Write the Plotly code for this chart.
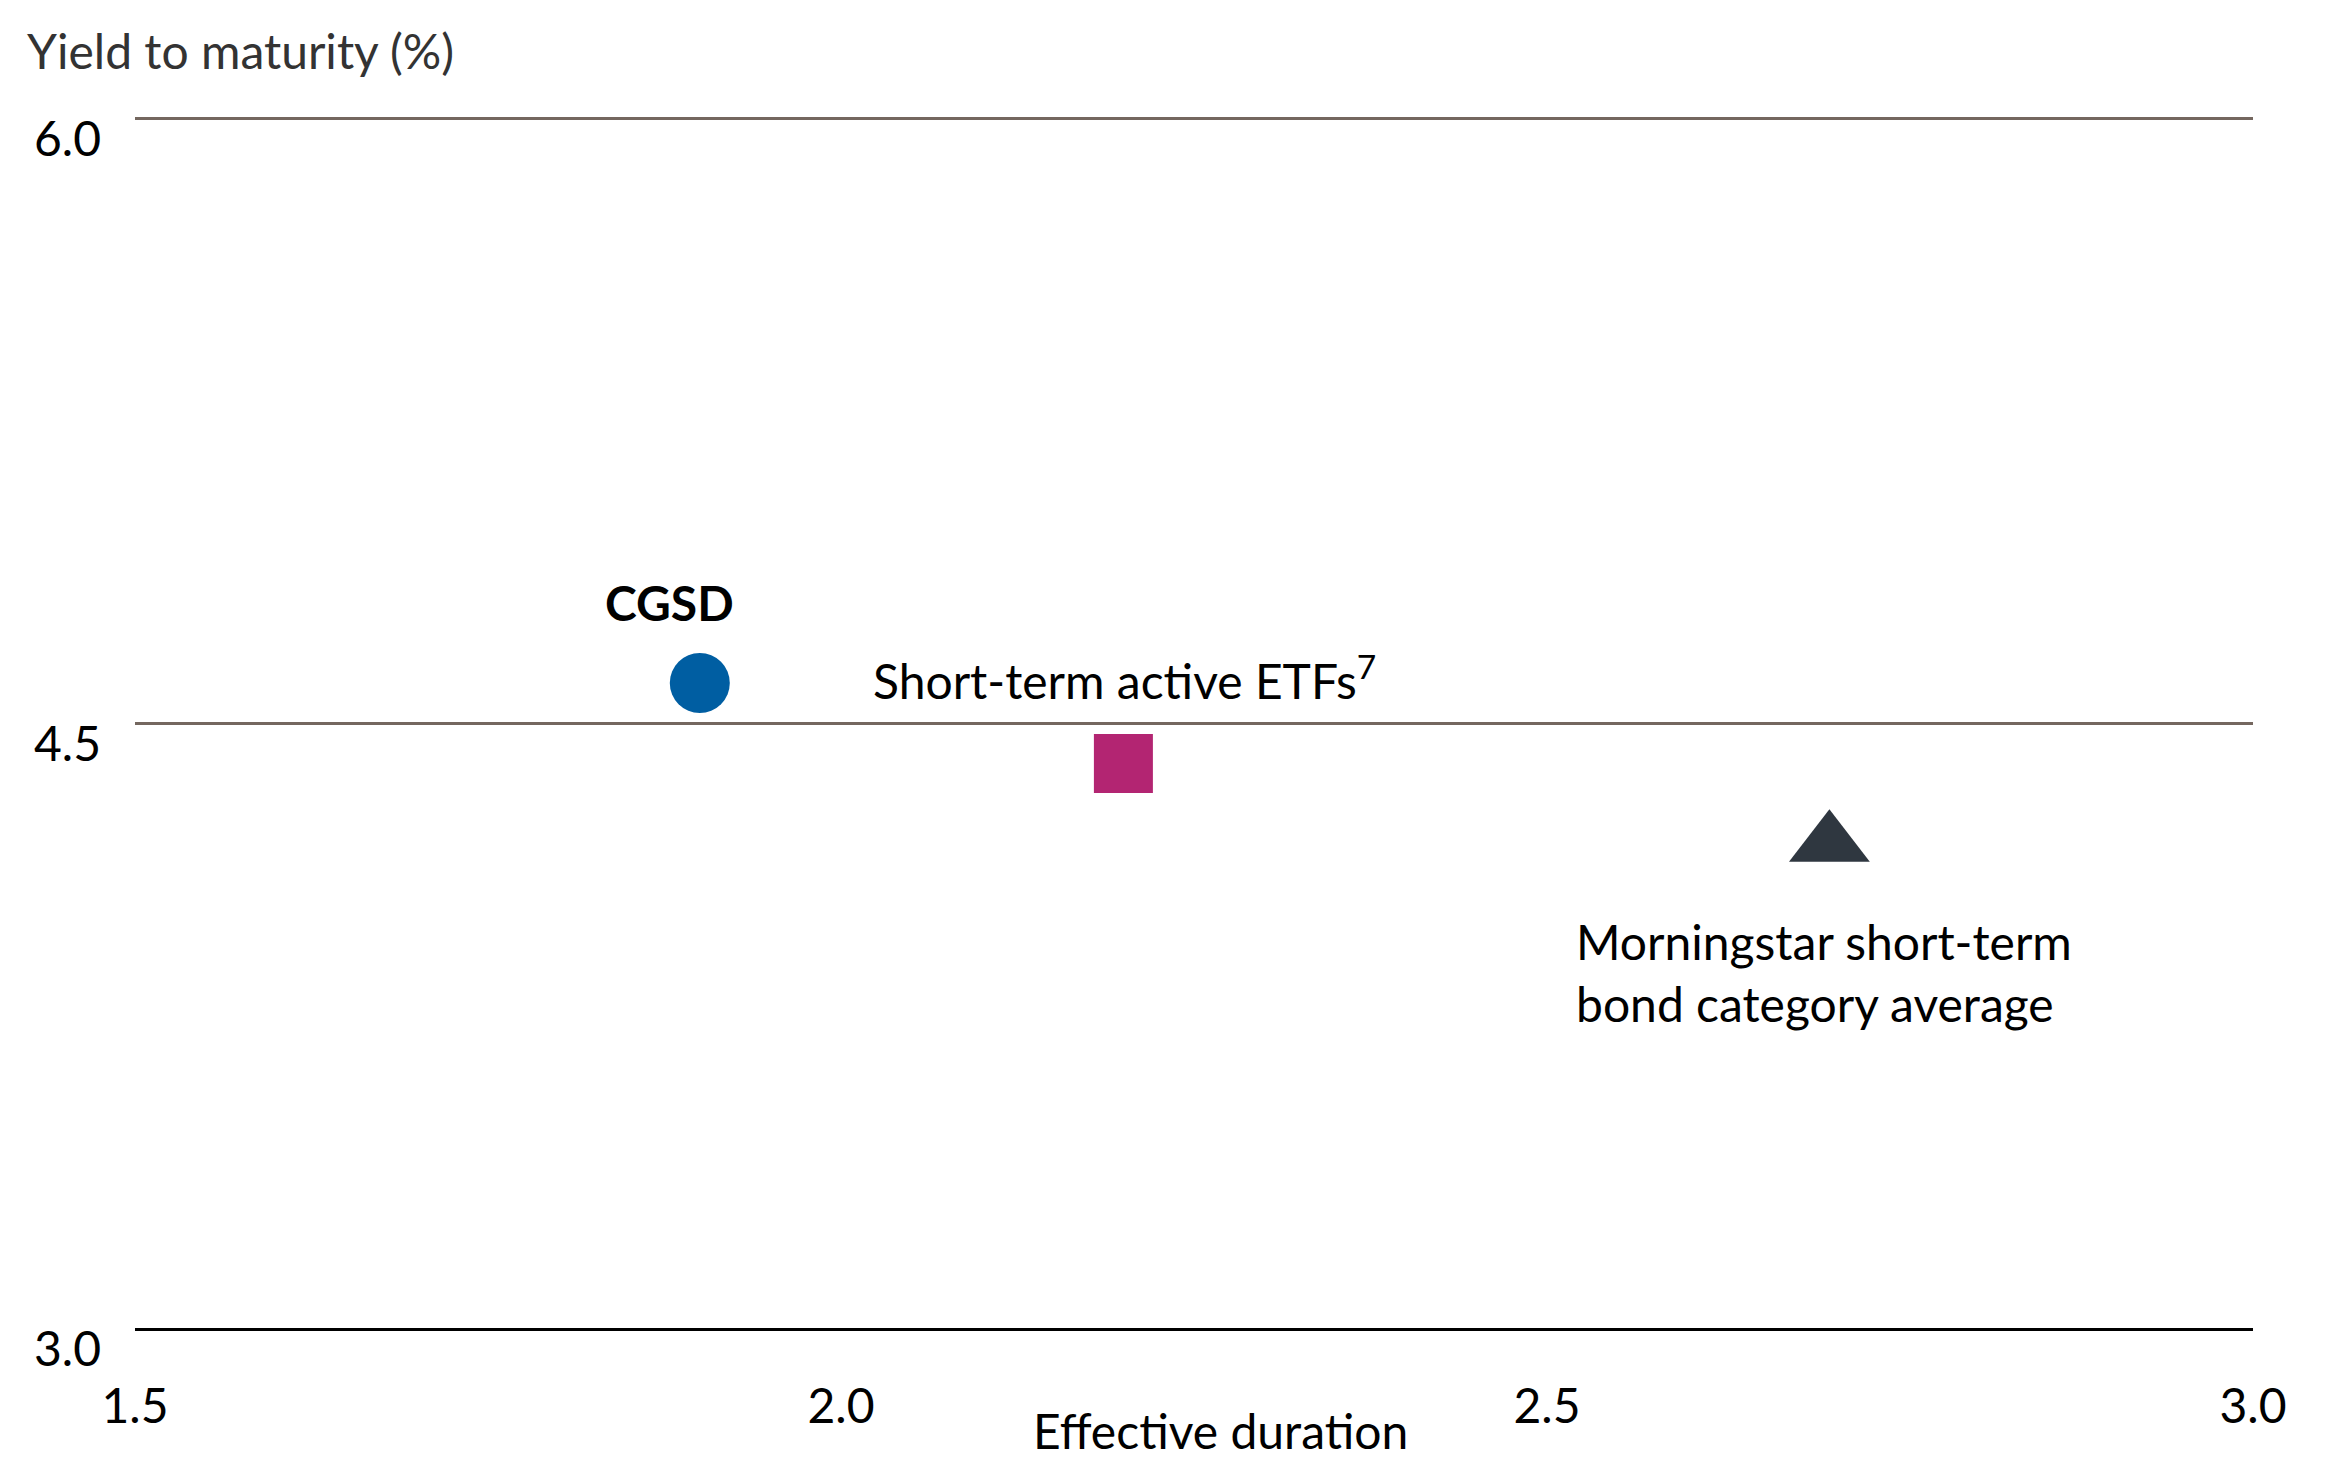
import plotly.graph_objects as go

### Data ###
names = ["CGSD", "Short-term active ETFs", "Morningstar short-term bond category average"]
duration = [1.9, 2.2, 2.7]
ytm = [4.6, 4.4, 4.2]
symbols = ["circle", "square", "triangle-up"]
colors = ["#005EA2", "#B32572", "#2F3740"]
sizes = [60, 59, 70]

x_ticks = [1.5, 2.0, 2.5, 3.0]
y_ticks = [3.0, 4.5, 6.0]

FONT = "Lato"
FS = 48

fig = go.Figure()
for i in range(len(names)):
    fig.add_trace(go.Scatter(
        x=[duration[i]], y=[ytm[i]], mode="markers", name=names[i],
        marker=dict(symbol=symbols[i], color=colors[i], size=sizes[i], line=dict(width=0)),
        showlegend=False,
    ))

### Labels next to the markers ###
fig.add_annotation(x=duration[0], y=ytm[0], text="<b>CGSD</b>", showarrow=False,
                   xanchor="center", yanchor="middle", xshift=-30, yshift=80,
                   font=dict(size=FS, color="#000000", family=FONT))
fig.add_annotation(x=duration[1], y=ytm[1], text="Short-term active ETFs<sup>7</sup>", showarrow=False,
                   xanchor="left", yanchor="middle", xshift=-252, yshift=86,
                   font=dict(size=FS, color="#000000", family=FONT))
fig.add_annotation(x=duration[2], y=ytm[2], text="Morningstar short-term<br>bond category average",
                   showarrow=False, align="left",
                   xanchor="left", yanchor="middle", xshift=-255, yshift=-128,
                   font=dict(size=FS, color="#000000", family=FONT))

### Axis titles ###
fig.add_annotation(xref="paper", yref="paper", x=0, y=1, text="Yield to maturity (%)", showarrow=False,
                   xanchor="left", yanchor="middle", xshift=-110, yshift=67,
                   font=dict(size=FS, color="#333333", family=FONT))
fig.add_annotation(xref="paper", yref="paper", x=0.5, y=0, text="Effective duration", showarrow=False,
                   xanchor="center", yanchor="bottom", xshift=26, yshift=-133,
                   font=dict(size=FS, color="#000000", family=FONT))

fig.update_xaxes(range=[1.5, 3.0], tickvals=x_ticks, tickformat=".1f",
                 showgrid=False, zeroline=False, showline=True, linecolor="#000000", linewidth=3,
                 ticks="", ticklabelstandoff=34,
                 tickfont=dict(size=FS, color="#000000", family=FONT))
fig.update_yaxes(range=[3.0, 6.004], tickvals=y_ticks, tickformat=".1f",
                 showgrid=True, gridcolor="#74675F", gridwidth=3, zeroline=False, showline=False,
                 ticks="", ticklabelstandoff=33, ticklabelshift=21,
                 tickfont=dict(size=FS, color="#000000", family=FONT))

fig.update_layout(
    width=2336, height=1454,
    margin=dict(l=127, r=91, t=109, b=134),
    plot_bgcolor="white", paper_bgcolor="white",
    font=dict(family=FONT),
)

fig.write_html("out.html")
